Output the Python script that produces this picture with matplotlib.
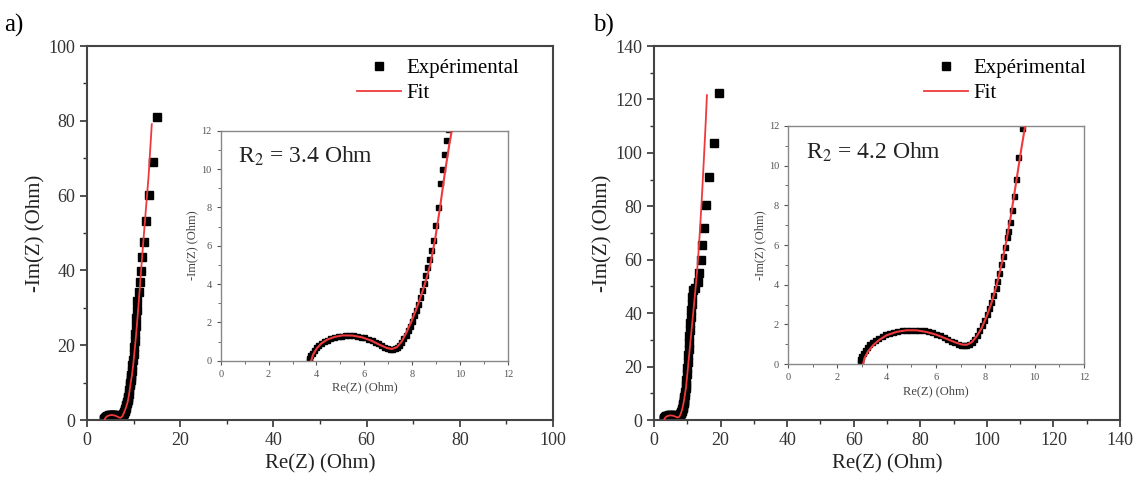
import matplotlib.pyplot as plt
from matplotlib.ticker import MultipleLocator

plt.rcParams['font.family'] = ['Liberation Serif', 'DejaVu Serif']
plt.rcParams['mathtext.fontset'] = 'stix'

# --- panel a : experimental points (Re, -Im) ---
exp_a_x = [3.68, 3.70, 3.74, 3.80, 3.88, 3.97, 4.07, 4.18, 4.30, 4.43, 4.57, 4.72,
           4.88, 5.04, 5.20, 5.36, 5.52, 5.68, 5.84, 6.00, 6.15, 6.30, 6.44, 6.58,
           6.71, 6.84, 6.96, 7.07, 7.17, 7.27, 7.36, 7.45, 7.54, 7.63, 7.72, 7.81,
           7.90, 7.99, 8.07, 8.15, 8.23, 8.31, 8.39, 8.47, 8.55, 8.63, 8.71, 8.80,
           8.88, 8.97, 9.07, 9.16, 9.26, 9.34, 9.42, 9.50,
           9.62, 9.74, 9.86, 9.98, 10.10, 10.22, 10.34, 10.46, 10.58, 10.70, 10.82,
           11.2, 11.4, 11.6, 11.9, 12.2, 12.7, 13.4, 14.1, 15.0]
exp_a_y = [0.05, 0.15, 0.28, 0.42, 0.56, 0.69, 0.81, 0.92, 1.02, 1.10, 1.17, 1.23,
           1.28, 1.31, 1.33, 1.34, 1.33, 1.30, 1.26, 1.21, 1.15, 1.07, 0.99, 0.90,
           0.81, 0.73, 0.66, 0.61, 0.60, 0.64, 0.72, 0.84, 0.99, 1.16, 1.36, 1.58,
           1.82, 2.08, 2.36, 2.66, 2.98, 3.32, 3.68, 4.06, 4.46, 4.88, 5.32, 5.78,
           6.28, 7.06, 8.02, 9.25, 10.0, 10.8, 11.5, 12.1,
           13.2, 14.6, 16.1, 17.7, 19.4, 21.2, 23.1, 25.1, 27.2, 29.4, 31.7,
           34.2, 36.9, 39.8, 43.7, 47.7, 53.2, 60.1, 68.9, 81.0]

fit_a_x = [3.78, 3.85, 4.00, 4.20, 4.45, 4.75, 5.10, 5.50, 5.90, 6.30, 6.65, 6.95,
           7.15, 7.35, 7.55, 7.75, 7.95, 8.15, 8.35, 8.55, 8.75, 8.95, 9.15, 9.35,
           9.55, 9.65, 9.90, 10.2, 10.5, 10.8, 11.1, 11.4, 11.7, 12.1, 12.6, 13.2, 13.9]
fit_a_y = [0.00, 0.30, 0.62, 0.90, 1.10, 1.24, 1.32, 1.31, 1.22, 1.04, 0.82, 0.66,
           0.61, 0.70, 0.98, 1.45, 2.00, 2.62, 3.32, 4.10, 5.00, 6.30, 7.90, 9.70,
           11.3, 12.0, 14.6, 18.4, 22.4, 26.8, 31.5, 36.5, 41.5, 48.0, 55.8, 65.0, 79.1]

# --- panel b ---
exp_b_x = [2.90, 2.92, 2.96, 3.02, 3.10, 3.19, 3.29, 3.40, 3.52, 3.65, 3.79, 3.94,
           4.10, 4.26, 4.43, 4.60, 4.78, 4.96, 5.14, 5.32, 5.50, 5.67, 5.84, 6.00,
           6.16, 6.31, 6.46, 6.60, 6.74, 6.87, 7.00, 7.12, 7.23, 7.34, 7.45, 7.55,
           7.65, 7.75, 7.85, 7.95, 8.05, 8.14, 8.23, 8.32, 8.41, 8.49, 8.57, 8.65,
           8.73, 8.80, 8.87, 8.93, 9.00, 9.07, 9.14, 9.22, 9.33, 9.50,
           9.62, 9.75, 9.88, 10.00, 10.12, 10.25, 10.38, 10.51, 10.64, 10.78, 10.92,
           11.06, 11.20, 11.36, 11.52, 11.70,
           12.4, 13.1, 13.4, 14.0, 14.5, 15.1, 15.6, 16.5, 17.9, 19.6]
exp_b_y = [0.10, 0.25, 0.40, 0.56, 0.72, 0.86, 0.99, 1.11, 1.22, 1.32, 1.41, 1.49,
           1.56, 1.62, 1.67, 1.70, 1.72, 1.73, 1.73, 1.72, 1.69, 1.65, 1.59, 1.52,
           1.44, 1.35, 1.26, 1.17, 1.09, 1.02, 0.97, 0.94, 0.95, 1.01, 1.12, 1.28,
           1.48, 1.70, 1.95, 2.22, 2.50, 2.80, 3.12, 3.46, 3.82, 4.20, 4.60, 5.02,
           5.46, 5.91, 6.38, 6.70, 7.17, 7.76, 8.47, 9.33, 10.42, 11.89,
           13.0, 15.0, 17.2, 19.5, 21.8, 24.2, 26.6, 29.0, 31.4, 33.8, 36.2,
           38.6, 41.0, 43.5, 46.0, 48.5,
           49.5, 51.6, 55.1, 60.0, 65.4, 72.0, 80.4, 90.8, 103.8, 122.3]

fit_b_x = [3.04, 3.10, 3.25, 3.45, 3.70, 4.00, 4.40, 4.80, 5.20, 5.60, 6.00, 6.40,
           6.80, 7.05, 7.25, 7.45, 7.65, 7.85, 8.05, 8.25, 8.45, 8.65, 8.85, 9.05,
           9.25, 9.45, 9.61, 9.80, 10.0, 10.5, 11.0, 11.5, 12.0, 12.5, 13.0, 13.5,
           14.0, 14.5, 15.0, 15.5, 15.9]
fit_b_y = [0.00, 0.30, 0.65, 0.95, 1.22, 1.45, 1.62, 1.70, 1.70, 1.62, 1.48, 1.28,
           1.08, 0.98, 0.97, 1.10, 1.40, 1.82, 2.40, 3.10, 3.95, 5.00, 6.20, 7.60,
           9.20, 10.8, 12.0, 14.5, 17.0, 23.5, 30.0, 36.5, 43.0, 49.5, 56.5, 65.0,
           75.0, 86.0, 98.0, 110.5, 121.6]

panels = [
    dict(tag='a)', ex=exp_a_x, ey=exp_a_y, fx=fit_a_x, fy=fit_a_y, lim=100,
         main=[0.0766, 0.1286, 0.4102, 0.7759],
         inset=[0.1943, 0.2517, 0.2529, 0.4772], r2='R$_2$ = 3.4 Ohm', tagx=0.004),
    dict(tag='b)', ex=exp_b_x, ey=exp_b_y, fx=fit_b_x, fy=fit_b_y, lim=140,
         main=[0.5757, 0.1286, 0.4102, 0.7759],
         inset=[0.6937, 0.2448, 0.2606, 0.4938], r2='R$_2$ = 4.2 Ohm', tagx=0.522),
]

red = '#f0393c'
fig = plt.figure(figsize=(11.36, 4.82), dpi=100)

for p in panels:
    ax = fig.add_axes(p['main'])
    ax.plot(p['ex'], p['ey'], 's', color='black', ms=6, label='Expérimental', zorder=2)
    ax.plot(p['fx'], p['fy'], '-', color=red, lw=1.3, label='Fit', zorder=3)
    ax.set_xlim(0, p['lim'])
    ax.set_ylim(0, p['lim'])
    ax.xaxis.set_major_locator(MultipleLocator(20))
    ax.yaxis.set_major_locator(MultipleLocator(20))
    ax.xaxis.set_minor_locator(MultipleLocator(10))
    ax.yaxis.set_minor_locator(MultipleLocator(10))
    ax.tick_params(which='both', direction='out', top=False, right=False,
                   labelsize=13, colors='#333333')
    ax.tick_params(which='major', length=5, width=1.2)
    ax.tick_params(which='minor', length=3, width=1)
    for s in ax.spines.values():
        s.set_color('#444444')
        s.set_linewidth(1.5)
    ax.set_xlabel('Re(Z) (Ohm)', fontsize=15, color='#222222')
    ax.set_ylabel('-Im(Z) (Ohm)', fontsize=15, color='#222222', labelpad=2)
    ax.legend(loc='upper right', frameon=False, fontsize=15, handlelength=2.1,
              handletextpad=0.3, labelspacing=0.25, borderaxespad=0.2,
              bbox_to_anchor=(0.955, 1.0))
    fig.text(p['tagx'], 0.935, p['tag'], fontsize=18)

    ins = fig.add_axes(p['inset'])
    ins.plot(p['ex'], p['ey'], 's', color='black', ms=3.6, zorder=2)
    ins.plot(p['fx'], p['fy'], '-', color=red, lw=1.5, zorder=3)
    ins.set_xlim(0, 12)
    ins.set_ylim(0, 12)
    ins.xaxis.set_major_locator(MultipleLocator(2))
    ins.yaxis.set_major_locator(MultipleLocator(2))
    ins.xaxis.set_minor_locator(MultipleLocator(1))
    ins.yaxis.set_minor_locator(MultipleLocator(1))
    ins.tick_params(which='both', direction='out', top=False, right=False,
                    labelsize=7.5, colors='#555555')
    ins.tick_params(which='major', length=3)
    ins.tick_params(which='minor', length=2)
    for s in ins.spines.values():
        s.set_color('#888888')
        s.set_linewidth(1)
    ins.set_xlabel('Re(Z) (Ohm)', fontsize=9, color='#444444', labelpad=2)
    ins.set_ylabel('-Im(Z) (Ohm)', fontsize=9, color='#444444', labelpad=2)
    ins.text(0.06, 0.89, p['r2'], transform=ins.transAxes, fontsize=17,
             va='center', ha='left', color='#222222')

fig.savefig('out.png', dpi=100)
